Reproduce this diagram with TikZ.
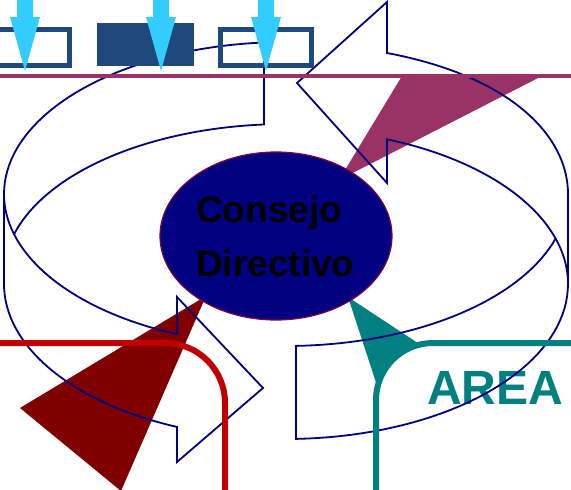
\documentclass[tikz,border=0pt]{standalone}
\usepackage{fontspec}
\setmainfont{Liberation Sans}
\usetikzlibrary{shapes.geometric}
\definecolor{cd-navy}{RGB}{0,0,128}
\definecolor{cd-plum}{RGB}{153,51,102}
\definecolor{cd-red}{RGB}{192,0,0}
\definecolor{cd-darkred}{RGB}{128,0,0}
\definecolor{cd-teal}{RGB}{0,128,128}
\definecolor{cd-box}{RGB}{31,73,125}
\definecolor{cd-cyan}{RGB}{51,204,255}
\definecolor{cd-rim}{RGB}{128,0,64}
\tikzstyle{cyclestyle}=[draw=cd-navy,line width=1.8pt,samples=40]
\tikzstyle{consejostyle}=[shape=ellipse,fill=cd-navy,draw=cd-rim,line width=1.2pt,minimum width=232pt,minimum height=168pt,inner sep=0pt]
\tikzstyle{consejotext}=[anchor=base west,inner sep=0pt,text=black,font=\fontsize{37}{41}\selectfont\bfseries]
\tikzstyle{areastyle}=[anchor=base west,inner sep=0pt,text=cd-teal,font=\fontsize{48}{52}\selectfont\bfseries]
\tikzstyle{framestyle}=[draw=cd-box,line width=5pt]
\tikzstyle{blockstyle}=[fill=cd-box]
\tikzstyle{cornerstyle}=[line width=6pt]
\tikzstyle{cyanstyle}=[fill=cd-cyan]
\newcommand{\cdcyanarrow}[1]{ \fill[cyanstyle] ({#1-8},-5) -- ({#1+8},-5) -- ({#1+8},17) -- ({#1+15},17) -- (#1,71) -- ({#1-15},17) -- ({#1-8},17) -- cycle; }
\begin{document}
\begin{tikzpicture}[x=1pt,y=-1pt,declare function={ex(\t)=286+282*cos(\t);topy(\t)=194-152*sin(\t);boty(\t)=284-155*sin(\t);backy(\t)=274-150*sin(\t);}]
\useasboundingbox (0,0) rectangle (571,490); %
\clip (0,0) rectangle (571,490); %
\node[areastyle] (area) at (427,404) {AREA}; %
\fill[cd-plum] (402,76) -- (542,76) -- (339,180) -- cycle; %
\fill[cd-darkred] (20,408) -- (121,491) -- (206,296) -- cycle; %
\fill[cd-teal] (348,297) -- (420,344.5) .. controls (390.7,357.7) .. (377.5,387) -- cycle; %
\draw[cyclestyle] (297,83) -- (387,2) -- (387,50) -- plot[domain=69.01:0] ({ex(\x)},{topy(\x)-2*sin(3*\x)}) -- plot[domain=360:272.03] ({ex(\x)},{boty(\x)}) -- (296,346) -- plot[domain=272.03:342.95] ({ex(\x)},{topy(\x)}) -- plot[domain=17.05:69.01] ({ex(\x)},{boty(\x)}) -- (387,183) -- cycle; %
\draw[cyclestyle] plot[domain=17.05:0] ({ex(\x)},{boty(\x)}); %
\draw[cyclestyle] (263,388) -- (177,297) -- (177,334) -- plot[domain=247.26:195.37] ({ex(\x)},{topy(\x)}) -- plot[domain=164.63:94.47] ({ex(\x)},{backy(\x)}) -- (264,42.5) -- plot[domain=94.47:180] ({ex(\x)},{topy(\x)}) -- plot[domain=180:247.26] ({ex(\x)},{boty(\x)}) -- (177,462) -- cycle; %
\draw[cyclestyle] plot[domain=180:195.37] ({ex(\x)},{topy(\x)}); %
\draw[cornerstyle,cd-red,rounded corners=60pt] (-5,343) -- (225,343) -- (225,495); %
\draw[cornerstyle,cd-teal,rounded corners=57pt] (576,343) -- (376,343) -- (376,495); %
\draw[cd-plum,line width=4.5pt] (-5,76) -- (576,76); %
\node[consejostyle] (consejo) at (276,236) {}; %
\node[consejotext] (consejoa) at (196,222.5) {Consejo}; %
\node[consejotext] (consejob) at (196,276) {Directivo}; %
\draw[framestyle] (-10,29.5) rectangle (69.5,65.5); %
\fill[blockstyle] (97,23) rectangle (194,66); %
\draw[framestyle] (220.5,29.5) rectangle (311.5,65.5); %
\cdcyanarrow{25} %
\cdcyanarrow{161} %
\cdcyanarrow{266} %
\end{tikzpicture}
\end{document}
